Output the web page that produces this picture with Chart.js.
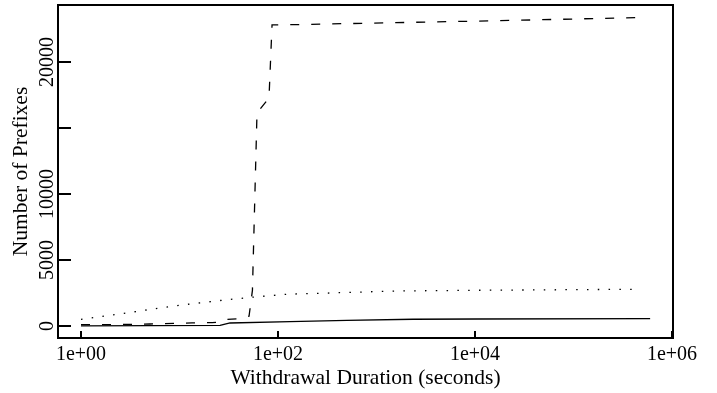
<!DOCTYPE html>
<html>
<head>
<meta charset="utf-8">
<script src="https://cdn.jsdelivr.net/npm/chart.js@4.4.1/dist/chart.umd.min.js"></script>
<style>
  body { margin: 0; background: #fff; }
  canvas { display: block; }
</style>
</head>
<body>
<canvas id="chart" width="717" height="393"></canvas>
<script>
// withdrawal duration (s) vs cumulative number of prefixes, three curves
const dashedX = [1, 2, 5, 13.4, 21.4, 25, 30, 40, 50.8, 55, 61.2, 81, 87, 150, 750, 17900, 310000, 473000];
const dashedY = [106, 106, 150, 230, 260, 280, 500, 540, 740, 2700, 16140, 17270, 22810, 22830, 22935, 23130, 23340, 23360];

const dottedX = [1, 2.73, 9.9, 27, 58, 123, 1620, 11200, 442000];
const dottedY = [508, 963, 1570, 1949, 2199, 2404, 2654, 2708, 2783];

const solidX = [1, 25.8, 32.6, 132, 500, 2350, 10500, 600000];
const solidY = [15, 50, 228, 334, 430, 510, 531, 561];

const xTicks = [1, 100, 10000, 1000000];
const yTicks = [0, 5000, 10000, 15000, 20000];
const yTickLabels = ["0", "5000", "10000", "", "20000"];

function toPoints(xs, ys) {
  return xs.map((x, i) => ({ x: x, y: ys[i] }));
}

// R style box round the plot area
const boxPlugin = {
  id: "box",
  afterDraw(chart) {
    const { ctx, chartArea } = chart;
    ctx.save();
    ctx.strokeStyle = "#000";
    ctx.lineWidth = 2;
    ctx.strokeRect(chartArea.left, chartArea.top, chartArea.right - chartArea.left, chartArea.bottom - chartArea.top);
    ctx.restore();
  },
};

Chart.defaults.font.family = "'Liberation Serif', 'DejaVu Serif', serif";
Chart.defaults.color = "#000";

const lineStyle = {
  borderColor: "#000",
  borderWidth: 1.3,
  pointRadius: 0,
  tension: 0,
  fill: false,
};

new Chart(document.getElementById("chart").getContext("2d"), {
  type: "line",
  data: {
    datasets: [
      Object.assign({ label: "dashed", data: toPoints(dashedX, dashedY), borderDash: [9, 12] }, lineStyle),
      Object.assign({ label: "dotted", data: toPoints(dottedX, dottedY), borderDash: [1.5, 9.3] }, lineStyle),
      Object.assign({ label: "solid", data: toPoints(solidX, solidY) }, lineStyle),
    ],
  },
  options: {
    responsive: false,
    animation: false,
    layout: { padding: { top: 5, right: 44, left: 0, bottom: 0 } },
    plugins: {
      legend: { display: false },
      tooltip: { enabled: false },
    },
    scales: {
      x: {
        type: "logarithmic",
        min: 0.584,
        max: 1024000,
        afterBuildTicks: (scale) => {
          scale.ticks = xTicks.map((v) => ({ value: v }));
        },
        afterFit: (scale) => {
          scale.height = 55;
          scale.paddingLeft = 0;
          scale.paddingRight = 0;
        },
        ticks: {
          autoSkip: false,
          maxRotation: 0,
          padding: 12,
          font: { size: 20 },
          callback: (v) => "1e+" + String(Math.round(Math.log10(v))).padStart(2, "0"),
        },
        grid: {
          drawOnChartArea: false,
          tickLength: -7,
          lineWidth: 2,
          color: "#000",
        },
        border: { display: false },
        title: {
          display: true,
          text: "Withdrawal Duration (seconds)",
          font: { size: 21.5 },
          padding: { top: 0, bottom: 2 },
        },
      },
      y: {
        type: "linear",
        min: -909,
        max: 24318,
        afterBuildTicks: (scale) => {
          scale.ticks = yTicks.map((v) => ({ value: v }));
        },
        afterFit: (scale) => {
          scale.width = 58;
          scale.paddingTop = 0;
          scale.paddingBottom = 0;
        },
        ticks: {
          autoSkip: false,
          minRotation: 90,
          maxRotation: 90,
          crossAlign: "center",
          padding: -2,
          font: { size: 20 },
          callback: (v, i) => yTickLabels[i],
        },
        grid: {
          drawOnChartArea: false,
          tickLength: -13,
          lineWidth: 2,
          color: "#000",
        },
        border: { display: false },
        title: {
          display: true,
          text: "Number of Prefixes",
          font: { size: 21.5 },
          padding: { top: 8, bottom: 0 },
        },
      },
    },
  },
  plugins: [boxPlugin],
});
</script>
</body>
</html>
